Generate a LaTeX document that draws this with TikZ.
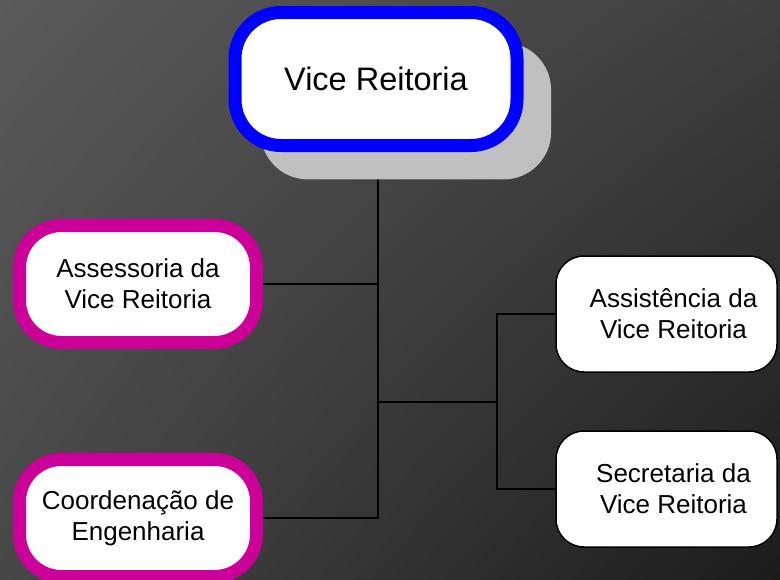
\documentclass[tikz,border=0pt]{standalone}
\usepackage{fontspec}
\setmainfont{Liberation Sans}
\usetikzlibrary{shadows,shadings,backgrounds}
\definecolor{vrblue}{HTML}{0000FF}
\definecolor{vrmagenta}{HTML}{CC0099}
\definecolor{shadowgray}{HTML}{C0C0C0}
\definecolor{bgtl}{HTML}{5A5A5A}
\definecolor{bgtr}{HTML}{3E3E3E}
\definecolor{bgbl}{HTML}{474747}
\definecolor{bgbr}{HTML}{1C1C1C}
\tikzset{every node/.append style={align=center,text=black}}
\tikzset{
	headbox/.style={draw=vrblue,fill=white,line width=13pt,rounded corners=46pt,
		minimum width=282pt,minimum height=133pt,font=\fontsize{32.5}{38}\selectfont,
		drop shadow={shadow xshift=29pt,shadow yshift=-31pt,shadow scale=1.03,fill=shadowgray,opacity=1}},
	leftbox/.style={draw=vrmagenta,fill=white,line width=13pt,rounded corners=42pt,
		minimum width=237pt,minimum height=117pt,font=\fontsize{26}{31}\selectfont},
	rightbox/.style={draw=black,fill=white,line width=1.5pt,rounded corners=28pt,
		minimum width=221pt,minimum height=116pt,font=\fontsize{26}{31}\selectfont},
	conn/.style={draw=black,line width=2pt}
}

\begin{document}
\begin{tikzpicture}[x=1pt,y=-1pt]
	\useasboundingbox (0,0) rectangle (780,579);
	\clip (0,0) rectangle (780,579);
	\begin{scope}[on background layer]
		\shade[upper left=bgtl,upper right=bgtr,lower left=bgbl,lower right=bgbr]
		(0,0) rectangle (780,579);
	\end{scope}
	% boxes
	\node[headbox] (vr) at (376,79) {Vice Reitoria};
	\node[leftbox] (ass) at (138,284) {Assessoria da\\Vice Reitoria};
	\node[leftbox] (cde) at (138,518) {Coordenação de\\Engenharia};
	\node[rightbox] (ast) at (666.5,314) {\hspace*{14pt}Assistência da\\\hspace*{14pt}Vice Reitoria};
	\node[rightbox] (sec) at (666.5,489) {\hspace*{14pt}Secretaria da\\\hspace*{14pt}Vice Reitoria};
	\coordinate (j1) at (378,402);
	\coordinate (j2) at (497,402);
	% lines
	\begin{scope}[on background layer]
		\draw[conn] (vr.south -| j1) -- (cde.east -| j1) -- (cde.east);
		\draw[conn] (ass.east) -- (ass.east -| j1);
		\draw[conn] (j1) -- (j2);
		\draw[conn] (ast.west) -- (ast.west -| j2) -- (sec.west -| j2) -- (sec.west);
	\end{scope}
\end{tikzpicture}
\end{document}
